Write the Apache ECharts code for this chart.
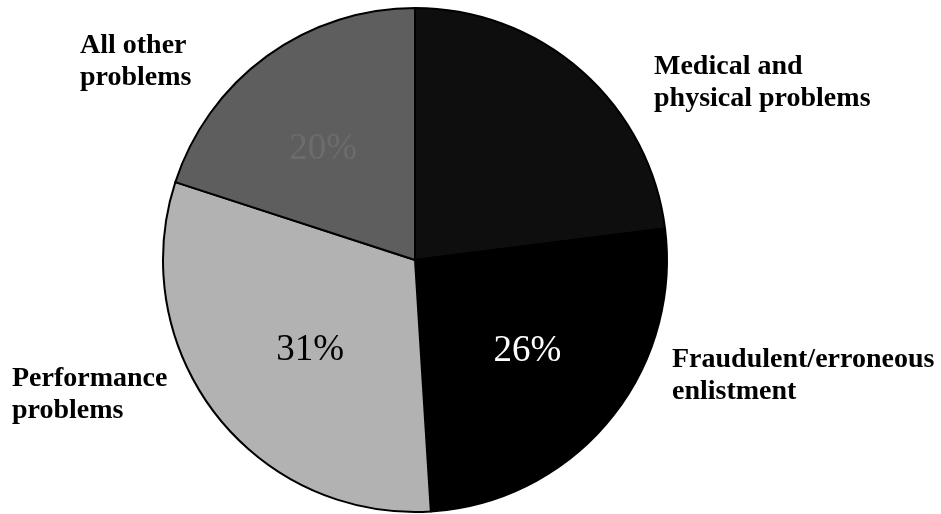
<!DOCTYPE html>
<html>
<head>
<meta charset="utf-8">
<script src="https://cdn.jsdelivr.net/npm/echarts@6/dist/echarts.min.js"></script>
<style>html,body{margin:0;padding:0;background:#fff;}#c{width:941px;height:514px;}</style>
</head>
<body>
<div id="c"></div>
<script>
// Data
var categories = ['Medical and\nphysical problems', 'Fraudulent/erroneous\nenlistment', 'Performance\nproblems', 'All other\nproblems'];
var values = [23, 26, 31, 20];

// Styles / layout (not data)
var sliceColors = ['#0e0e0e', '#000000', '#b2b2b2', '#5e5e5e'];
var pctColors = ['#0f0f0f', '#ffffff', '#000000', '#6c6c6c'];
var pctShift = [[0, 0], [13, 9], [-3, 11], [-16, -6]];
var nameAnchors = [[654, 51], [672, 344], [12, 363], [80, 30]];

var chart = echarts.init(document.getElementById('c'));
var serif = '"Liberation Serif", "Times New Roman", serif';

chart.setOption({
  animation: false,
  backgroundColor: '#ffffff',
  series: [
    {
      type: 'pie',
      center: [415, 260],
      radius: 252,
      startAngle: 90,
      clockwise: true,
      silent: true,
      data: categories.map(function (c, i) {
        return {
          name: c, value: values[i],
          itemStyle: { color: sliceColors[i] },
          label: { color: pctColors[i] }
        };
      }),
      itemStyle: { borderColor: '#000', borderWidth: 2 },
      label: {
        show: true,
        position: 'inside',
        fontFamily: serif,
        fontSize: 37,
        formatter: function (p) { return p.value + '%'; }
      },
      labelLine: { show: false },
      labelLayout: function (p) {
        var s = pctShift[p.dataIndex];
        return { dx: s[0], dy: s[1] };
      },
      emphasis: { disabled: true }
    },
    {
      type: 'pie',
      center: [415, 260],
      radius: 252,
      startAngle: 90,
      clockwise: true,
      silent: true,
      data: categories.map(function (c, i) { return { name: c, value: values[i] }; }),
      itemStyle: { color: 'rgba(0,0,0,0)', borderWidth: 0 },
      label: {
        show: true,
        position: 'outside',
        fontFamily: serif,
        fontWeight: 'bold',
        fontSize: 28,
        lineHeight: 32,
        color: '#000',
        align: 'left',
        verticalAlign: 'top',
        formatter: '{b}'
      },
      labelLine: { show: false },
      labelLayout: function (p) {
        var a = nameAnchors[p.dataIndex];
        return { x: a[0], y: a[1], align: 'left', verticalAlign: 'top' };
      },
      emphasis: { disabled: true }
    }
  ]
});
</script>
</body>
</html>
